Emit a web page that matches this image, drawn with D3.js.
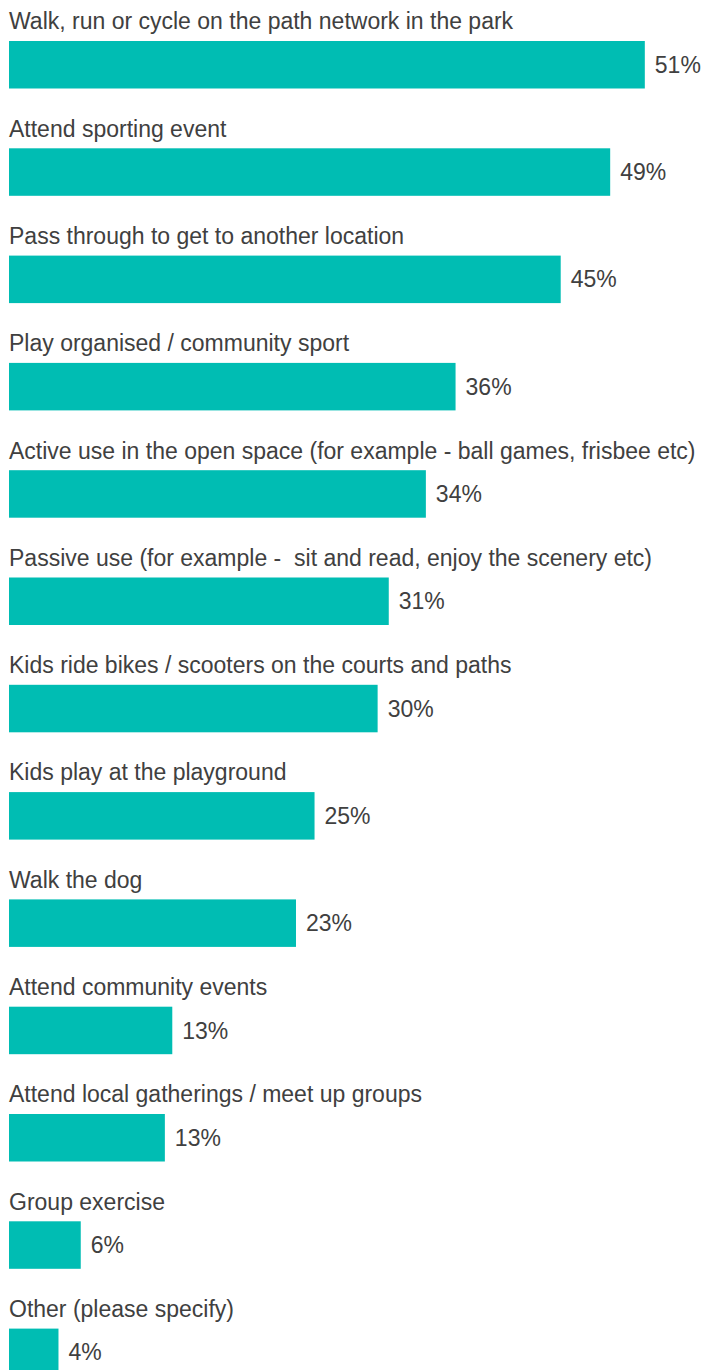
<!DOCTYPE html>
<html>
<head>
<meta charset="utf-8">
<script src="https://cdn.jsdelivr.net/npm/d3@7"></script>
<style>
  html, body { margin: 0; padding: 0; background: #fff; }
  svg { display: block; }
</style>
</head>
<body>
<div id="chart"></div>
<script>
const categories = [
  "Walk, run or cycle on the path network in the park",
  "Attend sporting event",
  "Pass through to get to another location",
  "Play organised / community sport",
  "Active use in the open space (for example - ball games, frisbee etc)",
  "Passive use (for example -  sit and read, enjoy the scenery etc)",
  "Kids ride bikes / scooters on the courts and paths",
  "Kids play at the playground",
  "Walk the dog",
  "Attend community events",
  "Attend local gatherings / meet up groups",
  "Group exercise",
  "Other (please specify)"
];
const values = [51.4, 48.6, 44.6, 36.1, 33.7, 30.7, 29.8, 24.7, 23.2, 13.2, 12.6, 5.8, 4.0];
const valueLabels = ["51%", "49%", "45%", "36%", "34%", "31%", "30%", "25%", "23%", "13%", "13%", "6%", "4%"];

const W = 704, H = 1370;
const svg = d3.select("#chart").append("svg")
  .attr("width", W).attr("height", H);

const x = d3.scaleLinear().domain([0, 100]).range([9, 9 + 1237]);
const y = d3.scaleBand().domain(categories).range([41, 41 + categories.length * 107.3]).padding(0);
const barH = 47.5;
const font = "'Liberation Sans', Arial, sans-serif";
const textColor = "#404040";
const fs = 23;

const rows = svg.selectAll("g.row").data(categories).enter().append("g").attr("class", "row");

rows.append("text")
  .attr("x", 9)
  .attr("y", d => y(d) - 11.7)
  .attr("font-family", font)
  .attr("font-size", fs)
  .attr("fill", textColor)
  .style("white-space", "pre")
  .text(d => d);

rows.append("rect")
  .attr("x", x(0))
  .attr("y", d => y(d))
  .attr("width", (d, i) => x(values[i]) - x(0))
  .attr("height", barH)
  .attr("fill", "#00bdb3");

rows.append("text")
  .attr("x", (d, i) => x(values[i]) + 10)
  .attr("y", d => y(d) + barH / 2)
  .attr("dy", "0.35em")
  .attr("font-family", font)
  .attr("font-size", fs)
  .attr("fill", textColor)
  .text((d, i) => valueLabels[i]);
</script>
</body>
</html>
